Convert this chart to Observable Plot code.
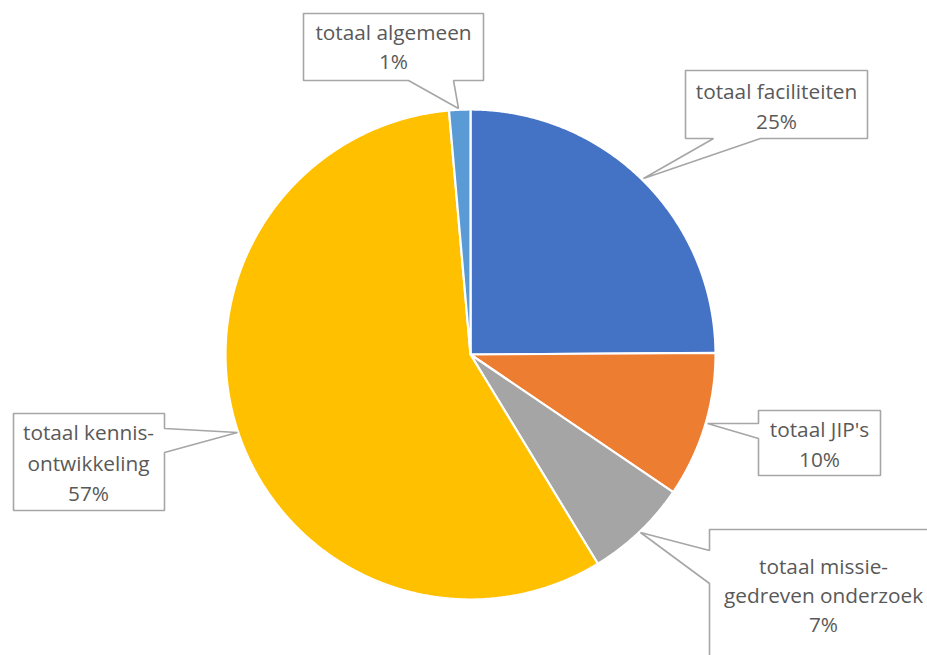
<!DOCTYPE html>
<html>
<head>
<meta charset="utf-8">
<script src="https://cdn.jsdelivr.net/npm/d3@7"></script>
<script src="https://cdn.jsdelivr.net/npm/@observablehq/plot@0.6"></script>
<style>
  html, body { margin: 0; padding: 0; background: #fff; overflow: hidden; }
  #chart svg { display: block; }
</style>
</head>
<body>
<div id="chart"></div>
<script>
// ---- data ----
const categories = ["totaal faciliteiten", "totaal JIP's", "totaal missie-gedreven onderzoek", "totaal kennis-ontwikkeling", "totaal algemeen"];
const values = [24.9, 9.6, 6.8, 57.3, 1.4];
const labelLines = [
  ["totaal faciliteiten"],
  ["totaal JIP's"],
  ["totaal missie-", "gedreven onderzoek"],
  ["totaal kennis-", "ontwikkeling"],
  ["totaal algemeen"]
];
const colors = ["#4472C4", "#ED7D31", "#A5A5A5", "#FFC000", "#5B9BD5"];

// ---- layout (pixels) ----
const W = 927, H = 655;
const cx = 470, cy = 354, R = 245;
// callout shapes: box + pointer polygon, and text center/lines
const callouts = [
  {poly: [[685,70],[867,70],[867,138],[760,138],[643,178],[713,138],[685,138]], tx: 776, ty: [92, 122]},
  {poly: [[758,410],[880,410],[880,475],[758,475],[758,438],[707,423],[758,423]], tx: 819, ty: [430, 460]},
  {poly: [[709,529],[945,529],[945,670],[709,670],[709,583],[640,532],[709,550]], tx: 823, ty: [567, 596, 625]},
  {poly: [[13,413],[164,413],[164,428],[237,432],[164,452],[164,510],[13,510]], tx: 88, ty: [433, 464, 494]},
  {poly: [[303,13],[483,13],[483,80],[453,80],[458,108],[408,80],[303,80]], tx: 393, ty: [33, 62]}
];

const arcs = d3.pie().sort(null).value(d => d)(values);
const slices = arcs.map((a, i) => {
  const pts = [{x: 0, y: 0}];
  const n = Math.max(4, Math.ceil((a.endAngle - a.startAngle) / 0.005));
  for (let k = 0; k <= n; k++) {
    const t = a.startAngle + (a.endAngle - a.startAngle) * k / n;
    pts.push({x: Math.sin(t), y: -Math.cos(t)});
  }
  pts.push({x: 0, y: 0});
  return pts;
});

// data-space helpers (pixel -> unit coordinates)
const ux = px => (px - cx) / R;
const uy = py => (py - cy) / R;

const marks = [];
slices.forEach((pts, i) => {
  marks.push(Plot.line(pts, {x: "x", y: "y", fill: colors[i], stroke: "#ffffff", strokeWidth: 2.2, strokeLinejoin: "round", curve: "linear"}));
});
callouts.forEach((c, i) => {
  const pts = c.poly.concat([c.poly[0]]).map(([px, py]) => ({x: ux(px), y: uy(py)}));
  marks.push(Plot.line(pts, {x: "x", y: "y", fill: "#ffffff", stroke: "#A6A6A6", strokeWidth: 1.6, strokeLinejoin: "miter", clip: true}));
  const lines = labelLines[i].concat([Math.round(values[i]) + "%"]);
  const tdata = lines.map((t, j) => ({x: ux(c.tx), y: uy(c.ty[j]), t}));
  marks.push(Plot.text(tdata, {x: "x", y: "y", text: "t", fill: "#595959", fontSize: 20.8, fontFamily: "'Open Sans', sans-serif", textAnchor: "middle", lineAnchor: "middle", clip: true}));
});

const chart = Plot.plot({
  width: W,
  height: H,
  margin: 0,
  x: {domain: [ux(0), ux(W)], range: [0, W], axis: null},
  y: {domain: [uy(0), uy(H)], range: [0, H], axis: null},
  style: {background: "#ffffff", overflow: "hidden"},
  marks
});
document.getElementById("chart").appendChild(chart);
</script>
</body>
</html>
